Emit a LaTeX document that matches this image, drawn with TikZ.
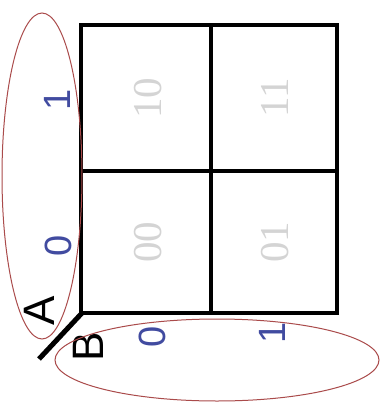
\documentclass[tikz,border=0pt]{standalone}
\usepackage{fontspec}
\setmainfont{Liberation Serif}
\setsansfont{Liberation Sans}
\begin{document}
\begin{tikzpicture}[x=1pt,y=-1pt,
  grid/.style={line width=4.5pt},
  cellnum/.style={font=\fontsize{41}{41}\selectfont, text=black!17, rotate=90, inner sep=0pt},
  lbl/.style={font=\sffamily\fontsize{38}{38}\selectfont, text={rgb,255:red,65;green,75;blue,160}, rotate=90, inner sep=0pt},
  var/.style={font=\sffamily\fontsize{44}{44}\selectfont, rotate=90, inner sep=0pt},
  ring/.style={draw={rgb,255:red,170;green,75;blue,75}, line width=1pt}]
\useasboundingbox (0,0) rectangle (382,405);
\fill[white] (0,0) rectangle (382,405);
% grid
\draw[grid] (81,25) rectangle (337,313);
\draw[grid] (211,25) -- (211,313);
\draw[grid] (81,171) -- (337,171);
\coordinate (corner) at (82,313);
\coordinate (tail) at (39,359);
\draw[line width=5pt] (corner) -- (tail);
% cell numbers
\node[cellnum] (c10) at (148,98) {10};
\node[cellnum] (c11) at (275,98) {11};
\node[cellnum] (c00) at (148,242) {00};
\node[cellnum] (c01) at (275,242) {01};
% labels
\node[lbl] (a1) at (57,100) {1};
\node[lbl] (a0) at (58,246) {0};
\node[lbl] (b0) at (152,337) {0};
\node[lbl] (b1) at (272,333) {1};
\node[var] (A) at (39,311) {A};
\node[var] (B) at (88,347) {B};
% ellipses
\draw[ring] (42,176) ellipse [x radius=40, y radius=163];
\draw[ring] (217,360) ellipse [x radius=162, y radius=41];
\end{tikzpicture}
\end{document}
